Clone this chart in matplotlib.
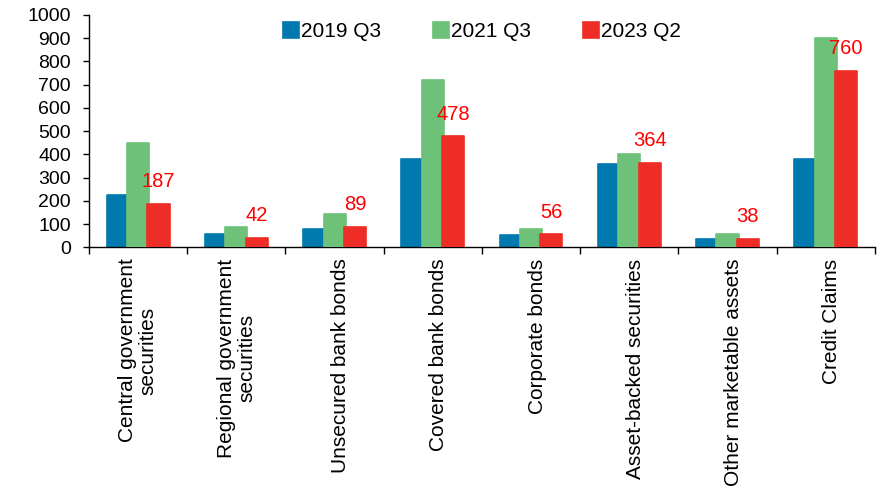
import numpy as np
import matplotlib
matplotlib.use("Agg")
import matplotlib.pyplot as plt
import matplotlib.transforms as mtransforms

plt.rcParams['font.family'] = ['Liberation Sans', 'DejaVu Sans']

categories = [
    "Central government\nsecurities",
    "Regional government\nsecurities",
    "Unsecured bank bonds",
    "Covered bank bonds",
    "Corporate bonds",
    "Asset-backed securities",
    "Other marketable assets",
    "Credit Claims",
]
series_names = ["2019 Q3", "2021 Q3", "2023 Q2"]
vals_2019q3 = [225, 60, 81, 381, 54, 360, 35, 381]
vals_2021q3 = [450, 90, 143, 718, 80, 400, 58, 899]
vals_2023q2 = [187, 42, 89, 478, 56, 364, 38, 760]
yticks = list(range(0, 1001, 100))

colors = ["#0079AF", "#6EC178", "#EE2D26"]

fig = plt.figure(figsize=(8.9, 4.93), dpi=100)
ax = fig.add_axes([0.1, 0.498, 0.883, 0.472])

x = np.arange(len(categories))
step = 0.207
w = 0.225
all_vals = [vals_2019q3, vals_2021q3, vals_2023q2]
for i, (vals, name, c) in enumerate(zip(all_vals, series_names, colors)):
    ax.bar(x + (i - 1) * step, vals, width=w, color=c, label=name,
           edgecolor=c, linewidth=1.2, joinstyle='round', zorder=2 + i)

# labels on the latest series
for xi, v in zip(x + step, vals_2023q2):
    ax.annotate(str(v), (xi, v), xytext=(0, 9), textcoords="offset points",
                ha="center", va="bottom", color="#FF0000", fontsize=14.5)

ax.set_xlim(-0.5, len(categories) - 0.5)
ax.set_ylim(0, 1000)
ax.set_yticks(yticks)
ax.tick_params(axis='y', labelsize=14, length=4, width=1, pad=9)

ax.set_xticks(np.arange(len(categories) + 1) - 0.5)
ax.set_xticklabels([])
ax.tick_params(axis='x', length=5, width=1)
ax.set_xticks(x, minor=True)
labels = ax.set_xticklabels(categories, minor=True, rotation=90, fontsize=15,
                            ha='center', va='top', multialignment='center',
                            linespacing=1.1)
ax.tick_params(axis='x', which='minor', length=0, pad=8)

# single line labels sit a little to the right in the original
shift = mtransforms.ScaledTranslation(6 / 100, 0, fig.dpi_scale_trans)
for lab in labels:
    if "\n" not in lab.get_text():
        lab.set_transform(lab.get_transform() + shift)

ax.spines['top'].set_visible(False)
ax.spines['right'].set_visible(False)
ax.spines['left'].set_linewidth(1)
ax.spines['bottom'].set_linewidth(1)

ax.legend(loc='upper center', bbox_to_anchor=(0.5, 1.05), ncol=3, frameon=False,
          fontsize=15, handlelength=0.75, handleheight=0.8, handletextpad=0.1,
          columnspacing=2.5)

fig.savefig("out.png", dpi=100)
